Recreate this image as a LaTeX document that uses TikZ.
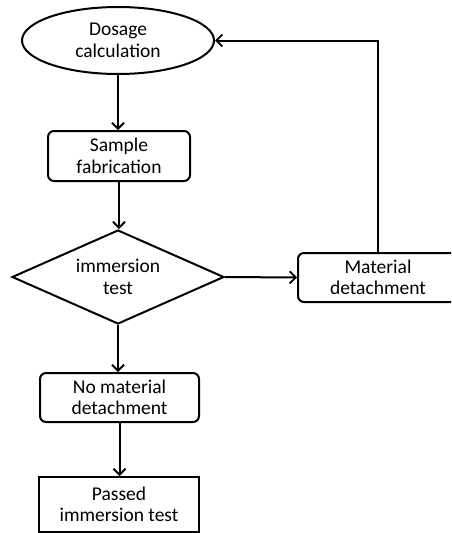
\documentclass[tikz,border=0pt]{standalone}
\usepackage{fontspec}
\setmainfont{Carlito}
\usetikzlibrary{shapes.geometric,arrows.meta}
\begin{document}
\begin{tikzpicture}[x=1pt,y=-1pt,
  every node/.style={font=\fontsize{19.5}{21.5}\selectfont, align=center, line width=2pt, draw=black, inner sep=0pt},
  rbox/.style={rectangle, rounded corners=6pt},
  sbox/.style={rectangle},
  conn/.style={line width=2pt, -{Straight Barb[length=6pt,width=12pt,line width=1.8pt]}}]
\clip (0,0) rectangle (451,533);
\node[ellipse, minimum width=192pt, minimum height=67pt] (ell) at (118,40.5) {Dosage\\calculation};
\node[rbox, minimum width=142pt, minimum height=50pt] (smp) at (119,156) {Sample\\fabrication};
\node[diamond, aspect=2.26, minimum width=212pt, minimum height=94pt] (dia) at (118,277) {immersion\\test};
\node[rbox, minimum width=160pt, minimum height=49pt] (mat) at (378,277.5) {Material\\detachment};
\node[rbox, minimum width=159pt, minimum height=49pt] (nom) at (119.5,397.5) {No material\\detachment};
\node[sbox, minimum width=160pt, minimum height=55pt] (pas) at (119,504.5) {Passed\\immersion test};
\draw[conn] (ell.south) -- (ell.south |- smp.north);
\draw[conn] (smp.south) -- (smp.south |- dia.north);
\draw[conn] (dia.east) -- (mat.west);
\draw[conn] (dia.south) -- (dia.south |- nom.north);
\draw[conn] (nom.south) -- (nom.south |- pas.north);
\draw[conn] (mat.north) |- (ell.east);
\end{tikzpicture}
\end{document}
